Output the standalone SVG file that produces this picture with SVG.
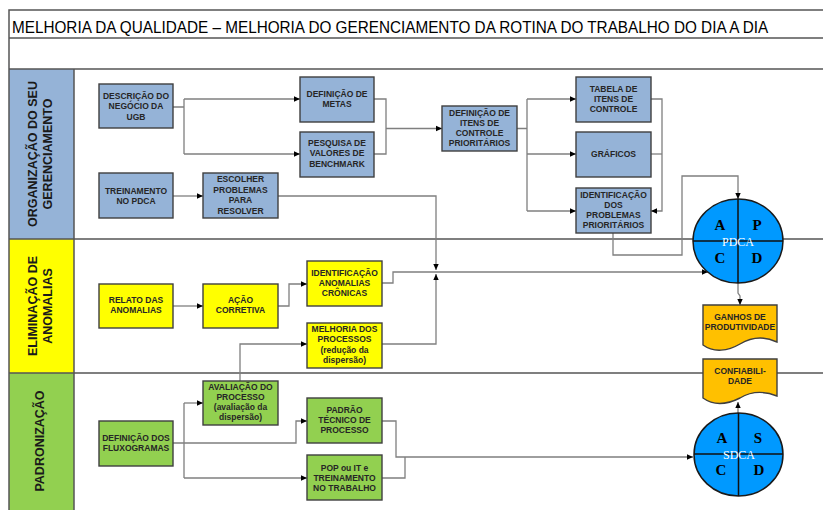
<svg xmlns="http://www.w3.org/2000/svg" width="823" height="510" viewBox="0 0 823 510">
<defs>
<marker id="ah" markerWidth="8" markerHeight="8" refX="6" refY="4" orient="auto" markerUnits="userSpaceOnUse"><path d="M0,1.3 L6,4 L0,6.7 Z" fill="#000"/></marker>
<style>
.frame{stroke:#555;stroke-width:1.5;fill:none}
.box{stroke:#3f3f3f;stroke-width:1.4}
.blue{fill:#95b3d7}.yel{fill:#ffff00}.grn{fill:#92d050}.org{fill:#ffc000}
.t{font-family:"Liberation Sans",Arial,sans-serif;font-weight:bold;font-size:8.5px;fill:#262626;text-anchor:middle}
.lane{font-family:"Liberation Sans",Arial,sans-serif;font-weight:bold;font-size:12.5px;fill:#1a1a1a;text-anchor:middle}
.c{fill:none;stroke:#7f7f7f;stroke-width:1.3}
.ca{fill:none;stroke:#7f7f7f;stroke-width:1.3;marker-end:url(#ah)}
.circ{fill:#0099ff;stroke:#1a1a1a;stroke-width:1.5}
.div{stroke:#111;stroke-width:1.5}
.ltr{font-family:"Liberation Serif","Times New Roman",serif;font-weight:bold;font-size:15px;fill:#000;text-anchor:middle}
.cyc{font-family:"Liberation Serif","Times New Roman",serif;font-size:12px;fill:#fff;text-anchor:middle}
</style>
</defs>
<rect width="823" height="510" fill="#fff"/>
<g id="frame">
<rect x="9" y="69" width="65" height="170" class="blue"/>
<rect x="9" y="239" width="65" height="134" class="yel"/>
<rect x="9" y="373" width="65" height="137" class="grn"/>
<path class="frame" d="M9,510 V10 H823 M9,38 H823 M9,69 H823 M9,239 H823 M9,373 H823 M74,69 V510"/>
<text transform="translate(12,32.5) scale(0.9,1)" x="0" y="0" font-family="'Liberation Sans',Arial,sans-serif" font-size="17" fill="#000">MELHORIA DA QUALIDADE – MELHORIA DO GERENCIAMENTO DA ROTINA DO TRABALHO DO DIA A DIA</text>
<text class="lane" transform="translate(37,154) rotate(-90)">ORGANIZAÇÃO DO SEU</text>
<text class="lane" transform="translate(52,154) rotate(-90)">GERENCIAMENTO</text>
<text class="lane" transform="translate(37,306) rotate(-90)">ELIMINAÇÃO DE</text>
<text class="lane" transform="translate(52,306) rotate(-90)">ANOMALIAS</text>
<text class="lane" transform="translate(44,441) rotate(-90)">PADRONIZAÇÃO</text>
</g>
<g id="connectors">
<path class="c" d="M173,107 H184 M184,99 V154"/>
<path class="ca" d="M184,99 H300"/>
<path class="ca" d="M184,154 H300"/>
<path class="c" d="M374,99 H386 V154 H374"/>
<path class="ca" d="M386,128.5 H442"/>
<path class="c" d="M517,128.5 H527 M527,99 V211"/>
<path class="ca" d="M527,99 H576"/>
<path class="ca" d="M527,154 H576"/>
<path class="ca" d="M527,211 H576"/>
<path class="c" d="M651,154 H662"/>
<path class="ca" d="M651,99 H662 V211 H651"/>
<path class="ca" d="M173,196 H203"/>
<path class="ca" d="M278,196 H436 V270"/>
<path class="ca" d="M613,233 V255 H682 V176 H738 V199"/>
<path class="ca" d="M173,306 H203"/>
<path class="ca" d="M278,306 H289 V284 H307"/>
<path class="ca" d="M382,283 H393 V272 H708"/>
<path class="ca" d="M240,381 V344 H307"/>
<path class="ca" d="M382,344 H436 V274"/>
<path class="ca" d="M738,283 V293 L740,296 V305"/>
<path class="c" d="M173,443 H184 M184,403 V478"/>
<path class="ca" d="M184,443 H296 V421 H307"/>
<path class="ca" d="M184,403 H203"/>
<path class="ca" d="M184,478 H307"/>
<path class="ca" d="M382,421 H396 V457 H693"/>
<path class="c" d="M382,478 H405 V457"/>
<path class="ca" d="M738,413 V402"/>
</g>
<g id="n-desc"><rect class="box blue" x="99" y="84" width="74" height="44"/><text class="t"><tspan x="136" y="98.5">DESCRIÇÃO DO</tspan><tspan x="136" y="109">NEGÓCIO DA</tspan><tspan x="136" y="119.5">UGB</tspan></text></g>
<g id="n-metas"><rect class="box blue" x="300" y="77" width="74" height="45"/><text class="t"><tspan x="337" y="97">DEFINIÇÃO DE</tspan><tspan x="337" y="107">METAS</tspan></text></g>
<g id="n-bench"><rect class="box blue" x="300" y="132" width="74" height="45"/><text class="t"><tspan x="337" y="145.5">PESQUISA DE</tspan><tspan x="337" y="156">VALORES DE</tspan><tspan x="337" y="166.5">BENCHMARK</tspan></text></g>
<g id="n-treino"><rect class="box blue" x="99" y="173" width="74" height="45"/><text class="t"><tspan x="136" y="194">TREINAMENTO</tspan><tspan x="136" y="204">NO PDCA</tspan></text></g>
<g id="n-escolher"><rect class="box blue" x="203" y="173" width="75" height="45"/><text class="t"><tspan x="240.5" y="182">ESCOLHER</tspan><tspan x="240.5" y="192.5">PROBLEMAS</tspan><tspan x="240.5" y="203">PARA</tspan><tspan x="240.5" y="213.5">RESOLVER</tspan></text></g>
<g id="n-itens"><rect class="box blue" x="442" y="106" width="75" height="45"/><text class="t"><tspan x="479.5" y="116">DEFINIÇÃO DE</tspan><tspan x="479.5" y="126">ITENS DE</tspan><tspan x="479.5" y="136">CONTROLE</tspan><tspan x="479.5" y="146">PRIORITÁRIOS</tspan></text></g>
<g id="n-tabela"><rect class="box blue" x="576" y="77" width="75" height="45"/><text class="t"><tspan x="613.5" y="91.5">TABELA DE</tspan><tspan x="613.5" y="101.5">ITENS DE</tspan><tspan x="613.5" y="111.5">CONTROLE</tspan></text></g>
<g id="n-graficos"><rect class="box blue" x="576" y="132" width="75" height="45"/><text class="t"><tspan x="613.5" y="157">GRÁFICOS</tspan></text></g>
<g id="n-identprob"><rect class="box blue" x="576" y="188" width="75" height="45"/><text class="t"><tspan x="613.5" y="198">IDENTIFICAÇÃO</tspan><tspan x="613.5" y="208">DOS</tspan><tspan x="613.5" y="218">PROBLEMAS</tspan><tspan x="613.5" y="228">PRIORITÁRIOS</tspan></text></g>
<g id="n-relato"><rect class="box yel" x="99" y="284" width="74" height="44"/><text class="t"><tspan x="136" y="303">RELATO DAS</tspan><tspan x="136" y="313">ANOMALIAS</tspan></text></g>
<g id="n-acao"><rect class="box yel" x="203" y="284" width="75" height="44"/><text class="t"><tspan x="240.5" y="303">AÇÃO</tspan><tspan x="240.5" y="313">CORRETIVA</tspan></text></g>
<g id="n-identanom"><rect class="box yel" x="307" y="261" width="75" height="45"/><text class="t"><tspan x="344.5" y="276">IDENTIFICAÇÃO</tspan><tspan x="344.5" y="286">ANOMALIAS</tspan><tspan x="344.5" y="296">CRÔNICAS</tspan></text></g>
<g id="n-melhoria"><rect class="box yel" x="307" y="323" width="75" height="45"/><text class="t"><tspan x="344.5" y="332">MELHORIA DOS</tspan><tspan x="344.5" y="342">PROCESSOS</tspan><tspan x="344.5" y="353">(redução da</tspan><tspan x="344.5" y="363">dispersão)</tspan></text></g>
<g id="n-avaliacao"><rect class="box grn" x="203" y="381" width="75" height="44"/><text class="t"><tspan x="240.5" y="390">AVALIAÇÃO DO</tspan><tspan x="240.5" y="400">PROCESSO</tspan><tspan x="240.5" y="410">(avaliação da</tspan><tspan x="240.5" y="420">dispersão)</tspan></text></g>
<g id="n-fluxo"><rect class="box grn" x="99" y="421" width="74" height="45"/><text class="t"><tspan x="136" y="441">DEFINIÇÃO DOS</tspan><tspan x="136" y="451">FLUXOGRAMAS</tspan></text></g>
<g id="n-padrao"><rect class="box grn" x="307" y="398" width="75" height="45"/><text class="t"><tspan x="344.5" y="413">PADRÃO</tspan><tspan x="344.5" y="423">TÉCNICO DE</tspan><tspan x="344.5" y="433">PROCESSO</tspan></text></g>
<g id="n-pop"><rect class="box grn" x="307" y="455" width="75" height="45"/><text class="t"><tspan x="344.5" y="471">POP ou IT e</tspan><tspan x="344.5" y="481">TREINAMENTO</tspan><tspan x="344.5" y="491">NO TRABALHO</tspan></text></g>
<g id="n-ganhos"><path class="box org" d="M703,305 H777 V342 C762,335 750,338 740,344 C728,351 714,353 703,345 Z"/><text class="t"><tspan x="740" y="320">GANHOS DE</tspan><tspan x="740" y="330">PRODUTIVIDADE</tspan></text></g>
<g id="n-confiab"><path class="box org" d="M703,359 H777 V396 C762,390 750,392 740,398 C728,404 714,406 703,398 Z"/><text class="t"><tspan x="740" y="374">CONFIABILI-</tspan><tspan x="740" y="384">DADE</tspan></text></g>
<g id="n-pdca"><ellipse class="circ" cx="738" cy="241" rx="45" ry="42"/><path class="div" d="M738,199 V283 M693,241 H783"/><text class="ltr" x="720" y="230">A</text><text class="ltr" x="757" y="230">P</text><text class="ltr" x="720" y="263">C</text><text class="ltr" x="757" y="263">D</text><text class="cyc" x="738" y="246">PDCA</text></g>
<g id="n-sdca"><ellipse class="circ" cx="738.5" cy="454.5" rx="44.5" ry="41.5"/><path class="div" d="M738.5,413 V496 M694,454 H783"/><text class="ltr" x="722" y="443">A</text><text class="ltr" x="758" y="443">S</text><text class="ltr" x="721" y="475">C</text><text class="ltr" x="759" y="475">D</text><text class="cyc" x="739" y="459">SDCA</text></g>
</svg>
